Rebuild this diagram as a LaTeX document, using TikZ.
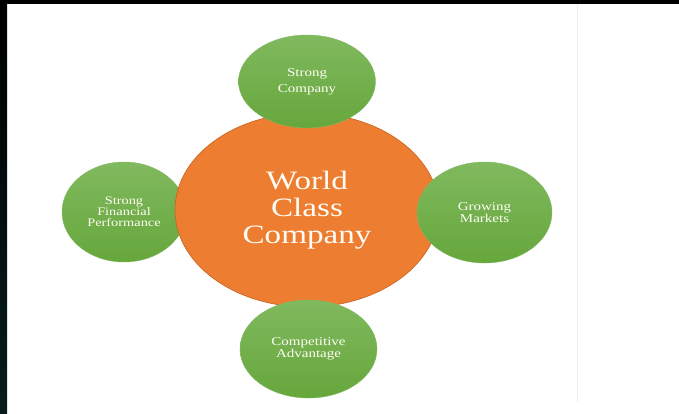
\documentclass[tikz,border=0pt]{standalone}
\usepackage{fontspec}
\setmainfont{Liberation Serif}[FakeStretch=1.25]
\usetikzlibrary{shapes.geometric}
\definecolor{orangefill}{HTML}{ED7D31}
\definecolor{orangeline}{HTML}{C9621C}
\definecolor{greentop}{HTML}{80B95E}
\definecolor{greenbot}{HTML}{66A73C}
\definecolor{txt}{HTML}{FFFDF5}
\definecolor{frameline}{HTML}{ECECEC}
\definecolor{darkteal}{HTML}{061C1C}
\begin{document}
\begin{tikzpicture}[x=1pt,y=-1pt,
  bubble/.style={ellipse, inner sep=0pt, top color=greentop, bottom color=greenbot,
     draw=greenbot!80!white, line width=0.4pt, text=txt, align=center},
  hub/.style={ellipse, inner sep=0pt, fill=orangefill, draw=orangeline, line width=0.6pt,
     text=txt, align=center, font=\fontsize{26.5}{26.8}\selectfont}]
\useasboundingbox (0,0) rectangle (679,413);
\fill[white] (0,0) rectangle (679,413);
% frame
\fill[black] (0,0) rectangle (679,4);
\shade[top color=black, bottom color=darkteal] (0,0) rectangle (7,413);
\draw[frameline, line width=0.8pt] (577,4) -- (577,402);
% left bubble (behind hub)
\node[bubble, minimum width=124pt, minimum height=100pt,
      font=\fontsize{11.5}{11}\selectfont] (sfp) at (124,212)
      {Strong\\Financial\\Performance};
% hub
\node[hub, minimum width=264pt, minimum height=194pt] (wcc) at (307,210)
      {World\\Class\\Company};
% other bubbles
\node[bubble, minimum width=137pt, minimum height=93pt,
      font=\fontsize{12}{16}\selectfont] (sc) at (307,81.5)
      {Strong\\Company};
\node[bubble, minimum width=135pt, minimum height=101pt,
      font=\fontsize{12}{10.8}\selectfont] (gm) at (484.5,212.5)
      {Growing\\Markets};
\node[bubble, minimum width=137pt, minimum height=98pt,
      font=\fontsize{12}{10}\selectfont] (ca) at (308.5,349)
      {Competitive\\Advantage};
\end{tikzpicture}
\end{document}
